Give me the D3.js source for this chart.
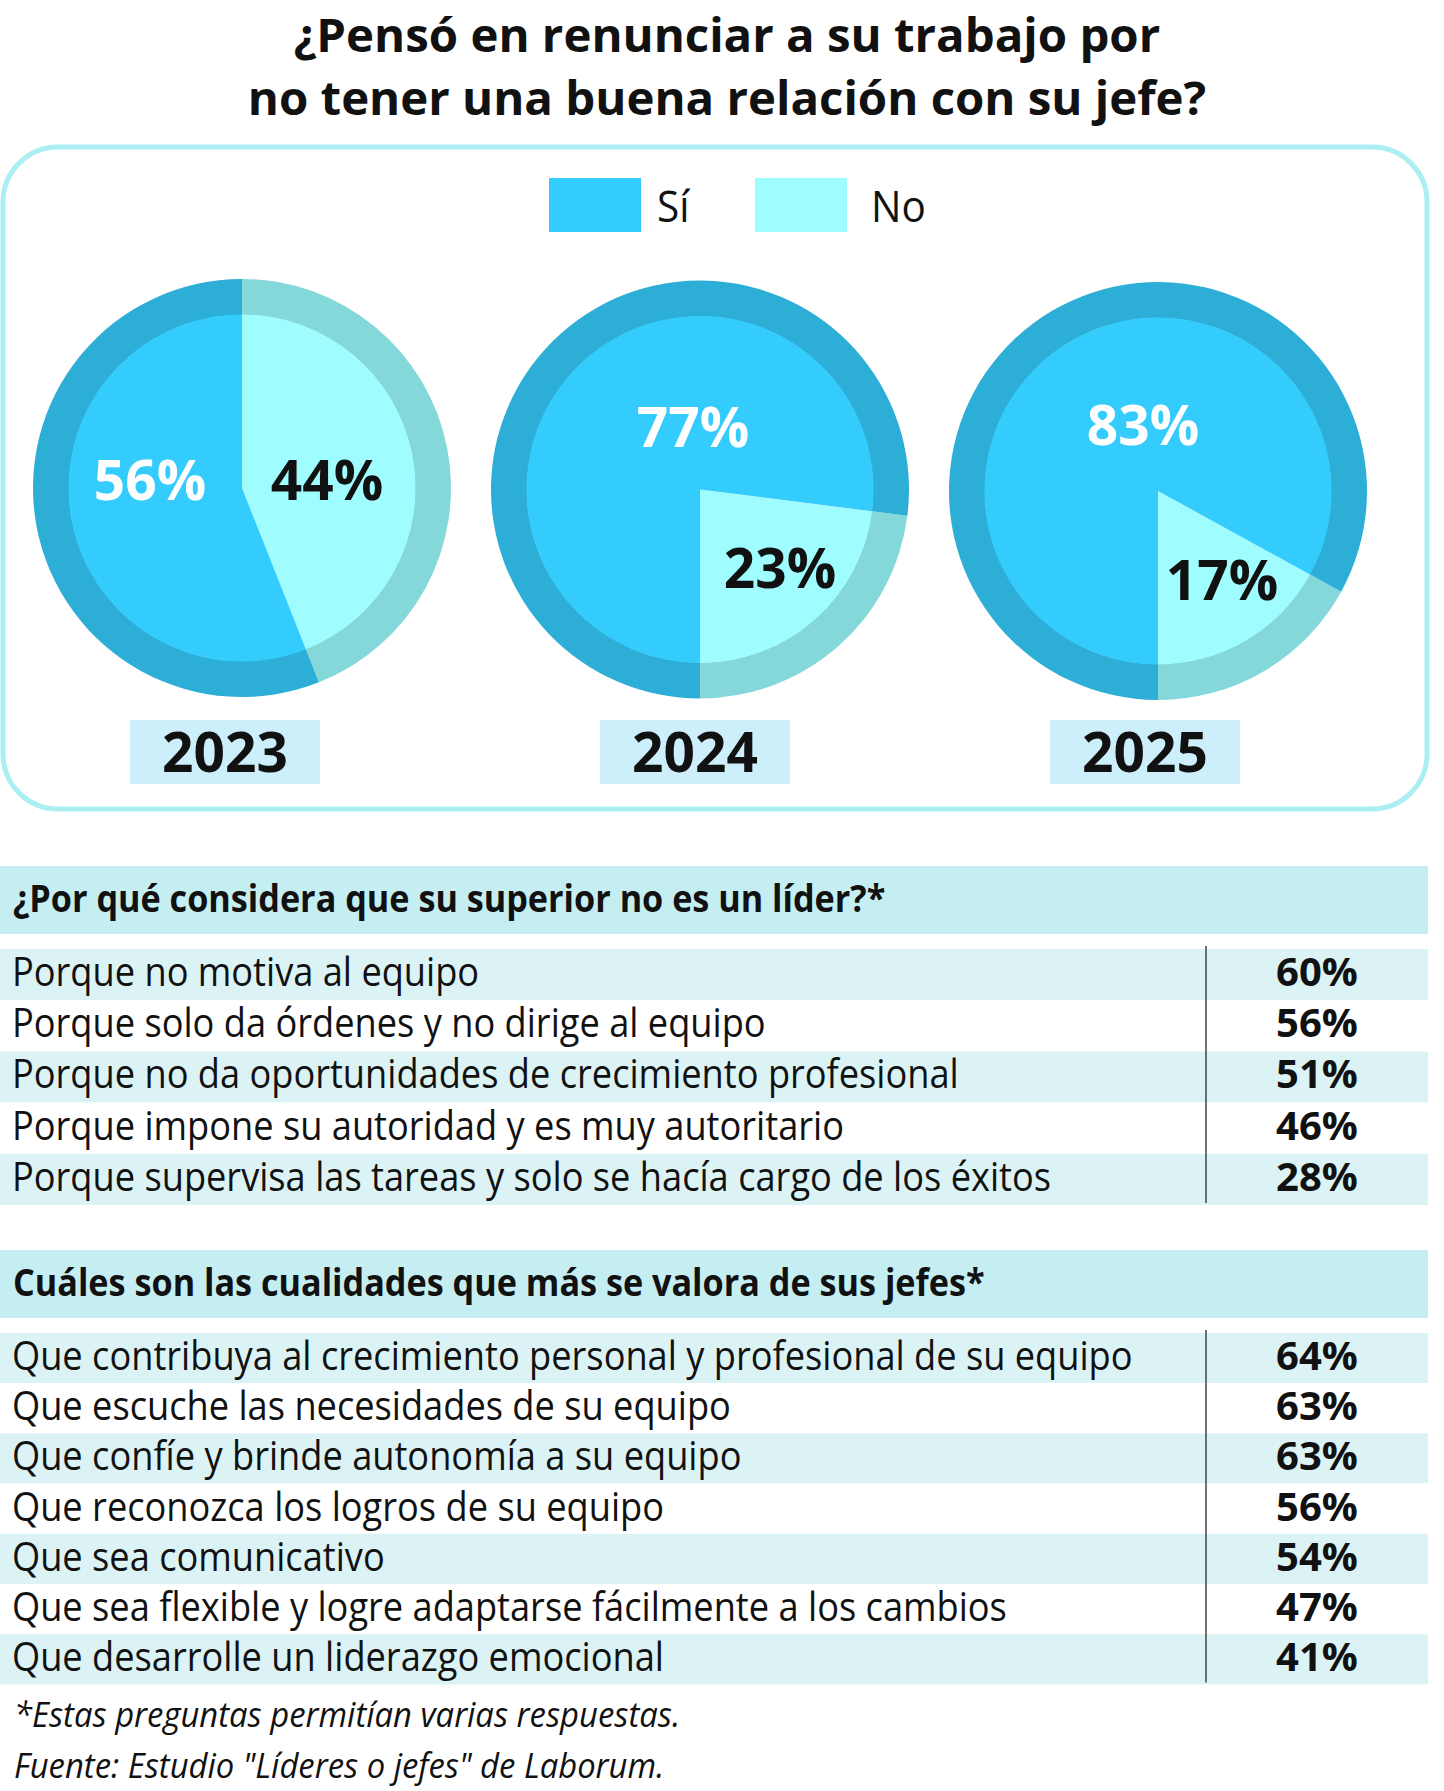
<!DOCTYPE html>
<html>
<head>
<meta charset="utf-8">
<script src="https://cdn.jsdelivr.net/npm/d3@7"></script>
<style>
	body { margin: 0; background: #fff; }
	svg { display: block; font-family: "Open Sans", "Noto Sans", sans-serif; }
</style>
</head>
<body>
<div id="chart"></div>
<script>
// data
const titleLines = ["¿Pensó en renunciar a su trabajo por", "no tener una buena relación con su jefe?"];
const legendLabels = ["Sí", "No"];
const years = ["2023", "2024", "2025"];
const siValues = [56, 77, 83];
const noValues = [44, 23, 17];

const leaderTitle = "¿Por qué considera que su superior no es un líder?*";
const leaderReasons = [
	"Porque no motiva al equipo",
	"Porque solo da órdenes y no dirige al equipo",
	"Porque no da oportunidades de crecimiento profesional",
	"Porque impone su autoridad y es muy autoritario",
	"Porque supervisa las tareas y solo se hacía cargo de los éxitos",
];
const leaderValues = [60, 56, 51, 46, 28];

const qualityTitle = "Cuáles son las cualidades que más se valora de sus jefes*";
const bossQualities = [
	"Que contribuya al crecimiento personal y profesional de su equipo",
	"Que escuche las necesidades de su equipo",
	"Que confíe y brinde autonomía a su equipo",
	"Que reconozca los logros de su equipo",
	"Que sea comunicativo",
	"Que sea flexible y logre adaptarse fácilmente a los cambios",
	"Que desarrolle un liderazgo emocional",
];
const qualityValues = [64, 63, 63, 56, 54, 47, 41];

const footnotes = [
	"*Estas preguntas permitían varias respuestas.",
	"Fuente: Estudio \"Líderes o jefes\" de Laborum.",
];

// layout
const width = 1444;
const height = 1791;

const svg = d3
	.select("#chart")
	.append("svg")
	.attr("width", width)
	.attr("height", height);

// squeeze text horizontally to mimic the condensed face
function squeeze(sel, k) {
	sel.each(function () {
		const w = this.getComputedTextLength();
		d3.select(this)
			.attr("textLength", w * k)
			.attr("lengthAdjust", "spacingAndGlyphs");
	});
}

// title
svg
	.append("g")
	.selectAll("text")
	.data(titleLines)
	.join("text")
	.attr("x", 727)
	.attr("y", (d, i) => 52 + i * 63)
	.attr("text-anchor", "middle")
	.style("font-size", "46px")
	.style("font-weight", 700)
	.style("fill", "#111")
	.text((d) => d)
	.call(squeeze, 1.03);

// rounded frame
svg
	.append("rect")
	.attr("x", 3)
	.attr("y", 147)
	.attr("width", 1424)
	.attr("height", 662)
	.attr("rx", 55)
	.attr("fill", "none")
	.attr("stroke", "#abeff2")
	.attr("stroke-width", 5);

const keys = ["si", "no"];
const fillColor = d3.scaleOrdinal().domain(keys).range(["#33ccfc", "#9ffdff"]);
const ringColor = d3.scaleOrdinal().domain(keys).range(["#2daed7", "#84d8d9"]);

// legend
const legend = svg.append("g").attr("transform", "translate(549, 178)");
keys.forEach((key, i) => {
	legend
		.append("rect")
		.attr("x", i * 206)
		.attr("y", 0)
		.attr("width", 92)
		.attr("height", 54)
		.attr("fill", fillColor(key));

	legend
		.append("text")
		.attr("x", i * 206 + 108 + i * 8)
		.attr("y", 44)
		.style("font-size", "44px")
		.style("fill", "#111")
		.text(legendLabels[i])
		.call(squeeze, 0.92);
});

// pies
const xPie = d3.scalePoint().domain(years).range([242, 1158]);
const yPie = d3.scalePoint().domain(years).range([488, 491]);
const outerR = 209;
const innerR = 173;

// label offsets from each pie centre [si, no]
const labelOffsets = [
	[[-92, 12], [85, 12]],
	[[-7, -43], [80, 98]],
	[[-15, -46], [64, 109]],
];
// year tags sit a little left of the pie centres
const tagOffsets = [-17, -5, -13];

const ring = d3.arc().innerRadius(innerR).outerRadius(outerR);
const core = d3.arc().innerRadius(0).outerRadius(innerR + 0.5);

years.forEach((year, i) => {
	const noAngle = (noValues[i] / 100) * 2 * Math.PI;
	// 2023 starts the "No" wedge at 12 o'clock, later years end it at 6 o'clock
	const start = i === 0 ? 0 : Math.PI - noAngle;
	const slices = d3
		.pie()
		.sort(null)
		.value((d) => d.value)
		.startAngle(start)
		.endAngle(start + 2 * Math.PI)([
		{ key: "no", value: noValues[i] },
		{ key: "si", value: siValues[i] },
	]);

	const g = svg
		.append("g")
		.attr("transform", `translate(${xPie(year)}, ${yPie(year)})`);

	g.selectAll("path.ring")
		.data(slices)
		.join("path")
		.attr("class", "ring")
		.attr("d", ring)
		.attr("fill", (d) => ringColor(d.data.key));

	g.selectAll("path.core")
		.data(slices)
		.join("path")
		.attr("class", "core")
		.attr("d", core)
		.attr("fill", (d) => fillColor(d.data.key));

	const labels = [
		{ v: siValues[i], off: labelOffsets[i][0], color: "#fff" },
		{ v: noValues[i], off: labelOffsets[i][1], color: "#111" },
	];
	g.selectAll("text")
		.data(labels)
		.join("text")
		.attr("x", (d) => d.off[0])
		.attr("y", (d) => d.off[1])
		.attr("text-anchor", "middle")
		.style("font-size", "55px")
		.style("font-weight", 700)
		.style("fill", (d) => d.color)
		.text((d) => d.v + "%");

	// year tag
	const tag = svg
		.append("g")
		.attr("transform", `translate(${xPie(year) + tagOffsets[i]}, 720)`);
	tag
		.append("rect")
		.attr("x", -95)
		.attr("y", 0)
		.attr("width", 190)
		.attr("height", 64)
		.attr("fill", "#cdeffb");
	tag
		.append("text")
		.attr("x", 0)
		.attr("y", 52)
		.attr("text-anchor", "middle")
		.style("font-size", "55px")
		.style("font-weight", 700)
		.style("fill", "#111")
		.text(year);
});

// tables
function drawTable(top, title, labels, values, rowStep) {
	const g = svg.append("g");
	const headH = 68;
	const rowsTop = top + headH + 15;

	g.append("rect")
		.attr("x", 0)
		.attr("y", top)
		.attr("width", 1428)
		.attr("height", headH)
		.attr("fill", "#c5eef3");

	g.append("text")
		.attr("x", 13)
		.attr("y", top + 46)
		.style("font-size", "38px")
		.style("font-weight", 700)
		.style("fill", "#111")
		.text(title)
		.call(squeeze, 0.9);

	const y = d3
		.scaleBand()
		.domain(d3.range(labels.length))
		.range([rowsTop, rowsTop + rowStep * labels.length]);

	g.selectAll("rect.row")
		.data(labels)
		.join("rect")
		.attr("class", "row")
		.attr("x", 0)
		.attr("y", (d, i) => y(i))
		.attr("width", 1428)
		.attr("height", y.bandwidth())
		.attr("fill", (d, i) => (i % 2 === 0 ? "#dcf3f5" : "#fff"));

	g.selectAll("text.label")
		.data(labels)
		.join("text")
		.attr("class", "label")
		.attr("x", 12)
		.attr("y", (d, i) => y(i) + 37)
		.style("font-size", "40px")
		.style("fill", "#111")
		.text((d) => d)
		.call(squeeze, 0.905);

	g.selectAll("text.value")
		.data(values)
		.join("text")
		.attr("class", "value")
		.attr("x", 1317)
		.attr("y", (d, i) => y(i) + 37)
		.attr("text-anchor", "middle")
		.style("font-size", "40px")
		.style("font-weight", 700)
		.style("fill", "#111")
		.text((d) => d + "%");

	g.append("line")
		.attr("x1", 1206)
		.attr("x2", 1206)
		.attr("y1", rowsTop - 3)
		.attr("y2", rowsTop + rowStep * labels.length - 2)
		.attr("stroke", "#444")
		.attr("stroke-width", 1.5);
}

drawTable(866, leaderTitle, leaderReasons, leaderValues, 51.2);
drawTable(1250, qualityTitle, bossQualities, qualityValues, 50.2);

// footnotes
svg
	.append("g")
	.selectAll("text")
	.data(footnotes)
	.join("text")
	.attr("x", 14)
	.attr("y", (d, i) => 1727 + i * 51)
	.style("font-size", "34px")
	.style("font-style", "italic")
	.style("fill", "#111")
	.text((d) => d)
	.call(squeeze, 0.965);
</script>
</body>
</html>
